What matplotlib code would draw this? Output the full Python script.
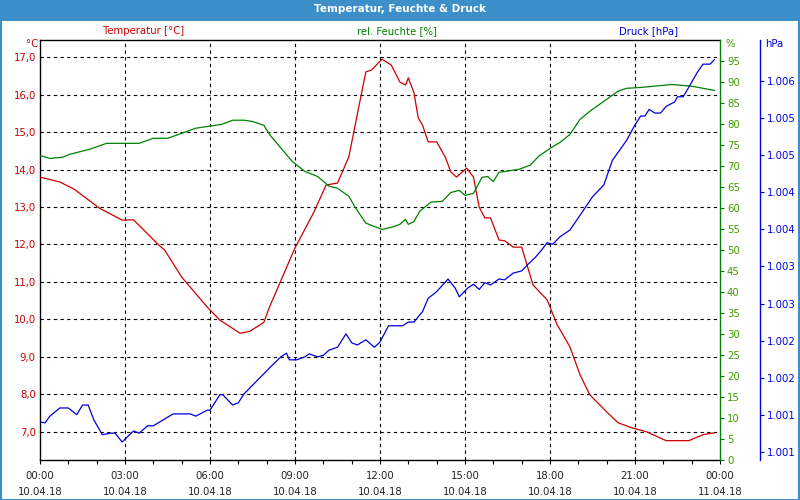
import matplotlib
matplotlib.use("Agg")
import matplotlib.pyplot as plt
from matplotlib.ticker import FuncFormatter, FixedLocator, MultipleLocator
from matplotlib.patches import Rectangle

# ---------------- data ----------------
temp_h = [0.0, 0.7, 1.2, 2.1, 2.9, 3.3, 3.5, 4.2, 4.4, 5.0, 5.9, 6.35, 7.06, 7.4, 7.9, 8.1,
          9.0, 9.65, 10.1, 10.5, 10.9, 11.3, 11.5, 11.7, 12.07, 12.4, 12.7, 12.9, 13.0, 13.2,
          13.35, 13.5, 13.7, 14.0, 14.3, 14.5, 14.7, 15.06, 15.3, 15.5, 15.7, 15.9, 16.2, 16.4,
          16.7, 17.0, 17.4, 17.9, 18.25, 18.7, 19.06, 19.4, 20.0, 20.4, 20.9, 21.4, 22.1, 22.9,
          23.4, 23.8]
temp_v = [13.80, 13.67, 13.48, 12.97, 12.65, 12.66, 12.51, 11.98, 11.85, 11.13, 10.33, 9.98, 9.63,
          9.68, 9.92, 10.33, 11.91, 12.84, 13.59, 13.64, 14.34, 15.86, 16.61, 16.66, 16.95, 16.79,
          16.34, 16.26, 16.45, 16.05, 15.38, 15.19, 14.74, 14.74, 14.34, 13.94, 13.80, 14.04, 13.80,
          13.00, 12.71, 12.71, 12.12, 12.10, 11.93, 11.93, 10.92, 10.52, 9.86, 9.27, 8.52, 7.99,
          7.53, 7.24, 7.10, 7.00, 6.76, 6.76, 6.92, 6.97]

hum_h = [0.0, 0.35, 0.8, 1.06, 1.76, 2.35, 3.0, 3.5, 4.0, 4.5, 4.8, 5.5, 6.0, 6.4, 6.8, 7.2, 7.5,
         7.9, 8.1, 8.9, 9.35, 9.8, 10.2, 10.5, 10.9, 11.1, 11.5, 11.8, 12.07, 12.4, 12.7, 12.9,
         13.0, 13.2, 13.4, 13.8, 14.2, 14.5, 14.8, 15.0, 15.3, 15.6, 15.8, 16.0, 16.2, 16.9, 17.3,
         17.6, 18.0, 18.35, 18.7, 19.06, 19.4, 19.9, 20.4, 20.7, 21.2, 22.3, 23.0, 23.8]
hum_v = [72.5, 71.8, 72.1, 72.8, 74.0, 75.4, 75.4, 75.4, 76.6, 76.6, 77.3, 79.0, 79.5, 79.9, 80.9,
         80.9, 80.6, 79.7, 77.5, 71.1, 68.7, 67.5, 65.2, 64.7, 62.8, 60.4, 56.4, 55.6, 54.9, 55.4,
         56.1, 57.3, 56.1, 56.8, 59.2, 61.4, 61.6, 63.7, 64.2, 63.0, 63.5, 67.3, 67.5, 66.3, 68.5,
         69.2, 70.2, 72.3, 74.2, 75.6, 77.5, 81.1, 83.0, 85.4, 87.8, 88.5, 88.7, 89.4, 89.0, 88.0]

pres_h = [0.0, 0.18, 0.35, 0.7, 1.0, 1.3, 1.5, 1.7, 1.9, 2.2, 2.5, 2.65, 2.9, 3.0, 3.3, 3.5, 3.8,
          4.0, 4.7, 5.3, 5.5, 5.9, 6.0, 6.35, 6.45, 6.8, 7.0, 7.2, 8.1, 8.5, 8.7, 8.8, 9.06,
          9.35, 9.5, 9.8, 10.0, 10.2, 10.5, 10.8, 11.0, 11.2, 11.5, 11.8, 12.0, 12.3, 12.8,
          13.0, 13.2, 13.5, 13.7, 14.0, 14.4, 14.65, 14.8, 15.1, 15.3, 15.5, 15.7, 15.9, 16.2,
          16.4, 16.7, 17.0, 17.2, 17.5, 17.7, 17.9, 18.1, 18.35, 18.7, 19.06, 19.5, 19.9, 20.2,
          20.7, 21.0, 21.2, 21.35, 21.5, 21.7, 21.9, 22.1, 22.4, 22.5, 22.7, 22.9, 23.2, 23.4,
          23.65, 23.8]
pres_v = [1001.20, 1001.19, 1001.28, 1001.39, 1001.39, 1001.30, 1001.43, 1001.43, 1001.23,
          1001.03, 1001.05, 1001.05, 1000.93, 1000.97, 1001.08, 1001.05, 1001.15, 1001.15,
          1001.31, 1001.31, 1001.28, 1001.36, 1001.36, 1001.57, 1001.57, 1001.43, 1001.46,
          1001.58, 1001.93, 1002.08, 1002.13, 1002.04, 1002.04, 1002.08, 1002.12, 1002.08,
          1002.10, 1002.17, 1002.21, 1002.39, 1002.27, 1002.24, 1002.31, 1002.21, 1002.28,
          1002.50, 1002.50, 1002.55, 1002.55, 1002.69, 1002.87, 1002.96, 1003.13, 1003.01,
          1002.89, 1003.01, 1003.06, 1002.99, 1003.08, 1003.05, 1003.13, 1003.12, 1003.21,
          1003.24, 1003.32, 1003.43, 1003.52, 1003.62, 1003.60, 1003.70, 1003.79, 1003.99,
          1004.24, 1004.40, 1004.73, 1005.00, 1005.21, 1005.33, 1005.33, 1005.42, 1005.37,
          1005.37, 1005.46, 1005.52, 1005.59, 1005.59, 1005.72, 1005.92, 1006.03, 1006.03,
          1006.09]

x_ticks = [0, 3, 6, 9, 12, 15, 18, 21, 24]
x_labels = ["00:00\n10.04.18", "03:00\n10.04.18", "06:00\n10.04.18", "09:00\n10.04.18",
            "12:00\n10.04.18", "15:00\n10.04.18", "18:00\n10.04.18", "21:00\n10.04.18",
            "00:00\n11.04.18"]
temp_ticks = [7, 8, 9, 10, 11, 12, 13, 14, 15, 16, 17]
hum_ticks = list(range(0, 100, 5))
pres_ticks = [1000.8, 1001.3, 1001.8, 1002.3, 1002.8, 1003.3, 1003.8, 1004.3, 1004.8, 1005.3, 1005.8]

title = "Temperatur, Feuchte & Druck"

# ---------------- style ----------------
RED = "#cc0000"
GREEN = "#008000"
BLUE = "#0000dd"
HEAD = "#3c8fc8"
FS = 7.3
plt.rcParams["font.family"] = ["DejaVu Sans"]

fig = plt.figure(figsize=(8, 5), dpi=100)
fig.patch.set_facecolor("white")

# title bar and frame
fig.patches.append(Rectangle((0, 1 - 21 / 500), 1, 21 / 500, transform=fig.transFigure,
                             facecolor=HEAD, edgecolor="none", zorder=0))
fig.patches.append(Rectangle((0.5 / 800, 0.5 / 500), 1 - 1.5 / 800, 1 - 1.5 / 500,
                             transform=fig.transFigure, facecolor="none",
                             edgecolor=HEAD, linewidth=1.5, zorder=0))
fig.text(0.5, 1 - 9.5 / 500, title, color="white", fontsize=7.5, fontweight="bold",
         ha="center", va="center")

ax = fig.add_axes([40 / 800, 40 / 500, 680 / 800, 420 / 500])
ax.set_facecolor("white")
ax.plot(temp_h, temp_v, color=RED, lw=0.9, zorder=3)
ax.set_xlim(0, 24)
ax.set_ylim(6.244, 17.462)
ax.set_yticks(temp_ticks)
ax.yaxis.set_major_formatter(FuncFormatter(lambda v, p: f"{v:.1f}".replace(".", ",")))
ax.tick_params(axis="y", length=0, pad=3, labelsize=FS, labelcolor=RED)
ax.set_xticks(x_ticks)
ax.set_xticklabels(x_labels, linespacing=1.75)
ax.xaxis.set_minor_locator(MultipleLocator(1))
ax.tick_params(axis="x", which="both", length=3, width=0.8, direction="out",
               labelsize=FS, labelcolor="#222222", pad=5)
for y in temp_ticks:
    ax.axhline(y, color="black", lw=0.8, ls=(0, (3, 3)), zorder=1)
for x in x_ticks[1:-1]:
    ax.axvline(x, color="black", lw=0.8, ls=(0, (3, 3)), zorder=1)
for s in ["left", "bottom", "top"]:
    ax.spines[s].set_color("black")
    ax.spines[s].set_linewidth(1.0)
ax.spines["right"].set_visible(False)

axh = ax.twinx()
axh.plot(hum_h, hum_v, color=GREEN, lw=0.9, zorder=2)
axh.set_ylim(0, 100)
axh.set_yticks(hum_ticks)
axh.tick_params(axis="y", length=3, width=0.8, colors=GREEN, labelcolor="#449900",
                labelsize=FS, pad=2)
axh.spines["right"].set_color(GREEN)
axh.spines["right"].set_linewidth(1.0)
for s in ["left", "top", "bottom"]:
    axh.spines[s].set_visible(False)

axp = ax.twinx()
axp.plot(pres_h, pres_v, color=BLUE, lw=0.9, zorder=2)
axp.set_ylim(1000.688, 1006.356)
axp.yaxis.set_major_locator(FixedLocator(pres_ticks))
axp.yaxis.set_major_formatter(FuncFormatter(lambda v, p: f"{v / 1000:.3f}"))
axp.spines["right"].set_position(("axes", 720 / 680))
axp.spines["right"].set_color(BLUE)
axp.spines["right"].set_linewidth(1.0)
for s in ["left", "top", "bottom"]:
    axp.spines[s].set_visible(False)
axp.tick_params(axis="y", length=3, width=0.8, colors=BLUE, labelcolor=BLUE,
                labelsize=FS, pad=2)

# header texts
fig.text(144 / 800, 1 - 31 / 500, "Temperatur [°C]", color=RED, fontsize=FS, ha="center", va="center")
fig.text(397 / 800, 1 - 31 / 500, "rel. Feuchte [%]", color=GREEN, fontsize=FS, ha="center", va="center")
fig.text(649 / 800, 1 - 31 / 500, "Druck [hPa]", color=BLUE, fontsize=FS, ha="center", va="center")
fig.text(38 / 800, 1 - 44 / 500, "°C", color=RED, fontsize=FS, ha="right", va="center")
fig.text(725 / 800, 1 - 44 / 500, "%", color="#449900", fontsize=FS, ha="left", va="center")
fig.text(765 / 800, 1 - 44 / 500, "hPa", color=BLUE, fontsize=FS, ha="left", va="center")

fig.savefig("out.png", dpi=100, facecolor=fig.get_facecolor())
